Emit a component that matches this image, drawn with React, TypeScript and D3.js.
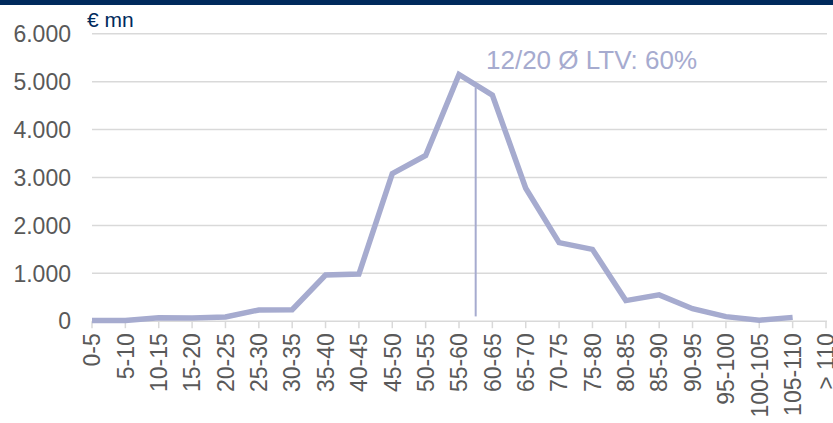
import React from "react";
import * as d3 from "d3";

const categories = ["0-5","5-10","10-15","15-20","20-25","25-30","30-35","35-40","40-45","45-50","50-55","55-60","60-65","65-70","70-75","75-80","80-85","85-90","90-95","95-100","100-105","105-110","> 110"];
const volumes: (number | null)[] = [15, 15, 70, 65, 90, 235, 240, 965, 985, 3080, 3460, 5150, 4720, 2775, 1640, 1500, 430, 550, 260, 95, 20, 80, null];
const yTicks = [0, 1000, 2000, 3000, 4000, 5000, 6000];
const yTickLabels = ["0", "1.000", "2.000", "3.000", "4.000", "5.000", "6.000"];
const unitLabel = "€ mn";
const annotationText = "12/20 Ø LTV: 60%";
const avgPos = 11.5; // category index of the average LTV marker
const avgLineRange = [100, 4880];

const W = 833, H = 423;
const FONT = "'Liberation Sans', Arial, sans-serif";
const LINE_COLOR = "#a6abcf";
const GRID = "#d9d9d9";
const TEXT = "#595959";
const NAVY = "#002a5c";

export default function App() {
  const x = d3.scalePoint<string>().domain(categories).range([92, 826]);
  const y = d3.scaleLinear().domain([0, 6000]).range([321.2, 33.8]);
  const idx = d3.scaleLinear().domain([0, categories.length - 1]).range([92, 826]);
  const pts = categories.map((c, i) => ({ c, v: volumes[i] }));
  const line = d3.line<{ c: string; v: number | null }>()
    .defined(d => d.v !== null)
    .x(d => x(d.c) as number)
    .y(d => y(d.v as number));
  const ax = idx(avgPos);
  return (
    <svg width={W} height={H} style={{ position: "absolute", left: 0, top: 0, background: "#fff" }} fontFamily={FONT}>
      <rect x={0} y={0} width={W} height={5} fill={NAVY} />
      {yTicks.map((t, i) => (
        <g key={t}>
          <line x1={92} x2={827} y1={y(t)} y2={y(t)} stroke={GRID} strokeWidth={1.5} />
          <text x={71} y={y(t)} dy="0.36em" textAnchor="end" fontSize={23} fill={TEXT}>{yTickLabels[i]}</text>
        </g>
      ))}
      {categories.map(c => (
        <g key={c}>
          <line x1={x(c)} x2={x(c)} y1={y(0)} y2={y(0) + 7} stroke={GRID} strokeWidth={1.5} />
          <text transform={`translate(${x(c)},${y(0) + 12}) rotate(-90)`} dy="0.36em" textAnchor="end" fontSize={23} fill={TEXT}>{c}</text>
        </g>
      ))}
      <text x={87} y={27} fontSize={21} fill={NAVY}>{unitLabel}</text>
      <path d={line(pts) || ""} fill="none" stroke={LINE_COLOR} strokeWidth={5.5} strokeLinejoin="miter" />
      <line x1={ax} x2={ax} y1={y(avgLineRange[0])} y2={y(avgLineRange[1])} stroke={LINE_COLOR} strokeWidth={2} />
      <text x={486} y={69} fontSize={26} fill={LINE_COLOR}>{annotationText}</text>
    </svg>
  );
}
